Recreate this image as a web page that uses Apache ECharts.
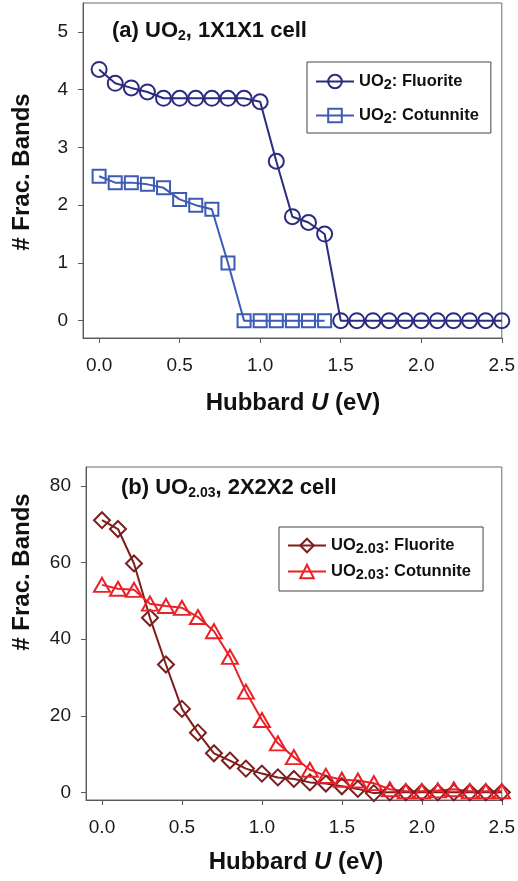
<!DOCTYPE html>
<html>
<head>
<meta charset="utf-8">
<script src="https://cdn.jsdelivr.net/npm/echarts@6/dist/echarts.min.js"></script>
<style>
  html, body { margin: 0; padding: 0; background: #fff; }
  #chart { width: 518px; height: 881px; }
</style>
</head>
<body>
<div id="chart"></div>
<script>
// Hubbard U values (eV)
const hubbardU = [0.0, 0.1, 0.2, 0.3, 0.4, 0.5, 0.6, 0.7, 0.8, 0.9, 1.0, 1.1, 1.2,
                  1.3, 1.4, 1.5, 1.6, 1.7, 1.8, 1.9, 2.0, 2.1, 2.2, 2.3, 2.4, 2.5];

// (a) UO2, 1x1x1 cell
const uo2Fluorite  = [4.35, 4.11, 4.03, 3.96, 3.85, 3.85, 3.85, 3.85, 3.85, 3.85, 3.79, 2.76, 1.80,
                      1.70, 1.50, 0, 0, 0, 0, 0, 0, 0, 0, 0, 0, 0];
const uo2Cotunnite = [2.50, 2.39, 2.39, 2.36, 2.30, 2.10, 2.00, 1.93, 1.00, 0, 0, 0, 0, 0, 0];

// (b) UO2.03, 2x2x2 cell
const uo203Fluorite  = [71.1, 68.8, 59.8, 45.6, 33.4, 21.8, 15.6, 10.2, 8.3, 6.2, 4.9, 3.9, 3.5,
                        2.6, 2.3, 1.6, 0.9, -0.2, 0, 0, 0, 0, 0, 0, 0, 0];
const uo203Cotunnite = [54.2, 53.2, 52.9, 49.3, 48.7, 48.2, 45.8, 42.1, 35.4, 26.3, 18.9, 12.8, 9.2,
                        5.9, 4.3, 3.3, 3.1, 2.4, 0.8, 0.3, 0.3, 0.5, 0.8, 0.3, 0.3, 0.3];

// Tick labels
const xTicks  = [0, 0.5, 1.0, 1.5, 2.0, 2.5];
const yTicksA = [0, 1, 2, 3, 4, 5];
const yTicksB = [0, 20, 40, 60, 80];

const FONT = '"Liberation Sans", Arial, Helvetica, sans-serif';
const AXIS_GRAY = '#5a5a5a';

function pairs(values) {
  return values.map((v, i) => [hubbardU[i], v]);
}

function xAxisFor(gridIndex) {
  return {
    type: 'value', gridIndex, min: -0.1, max: 2.5,
    splitLine: { show: false },
    axisLine: { show: true, onZero: false, lineStyle: { color: AXIS_GRAY, width: 1 } },
    axisTick: { show: true, inside: false, length: 5, customValues: xTicks, lineStyle: { color: AXIS_GRAY } },
    axisLabel: { customValues: xTicks, margin: 18, fontSize: 19, color: '#1a1a1a', fontFamily: FONT,
                 formatter: v => v.toFixed(1) }
  };
}

function yAxisFor(gridIndex, min, max, ticks) {
  return {
    type: 'value', gridIndex, min, max,
    splitLine: { show: false },
    axisLine: { show: true, onZero: false, lineStyle: { color: AXIS_GRAY, width: 1 } },
    axisTick: { show: true, inside: false, length: 5, customValues: ticks, lineStyle: { color: AXIS_GRAY } },
    axisLabel: { customValues: ticks, margin: 15, fontSize: 19, color: '#1a1a1a', fontFamily: FONT,
                 formatter: v => String(v) }
  };
}

function lineSeries(name, values, axisIdx, color, symbol, size) {
  return {
    name, type: 'line', xAxisIndex: axisIdx, yAxisIndex: axisIdx,
    data: pairs(values),
    symbol, symbolSize: size, showAllSymbol: true,
    lineStyle: { color, width: 2 },
    itemStyle: { color: 'rgba(255,255,255,0)', borderColor: color, borderWidth: 2 },
    emphasis: { disabled: true },
    animation: false
  };
}

const NAVY = '#2b2b80';
const BLUE = '#3d5bb3';
const DARKRED = '#7d1d1d';
const RED = '#ea2228';

const legendRich = {
  n: { fontSize: 16.5, fontWeight: 'bold', fontFamily: FONT, color: '#111' },
  s: { fontSize: 14.5, fontWeight: 'bold', fontFamily: FONT, color: '#111', padding: [6, 0, 0, 0] }
};

const chart = echarts.init(document.getElementById('chart'), null, { renderer: 'canvas' });

chart.setOption({
  backgroundColor: '#fff',
  animation: false,
  grid: [
    { left: 83, top: 3, right: 16, height: 335, show: true, borderColor: '#6a6a6a', borderWidth: 1 },
    { left: 86, top: 467, right: 12, height: 333, show: true, borderColor: '#6a6a6a', borderWidth: 1 }
  ],
  xAxis: [xAxisFor(0), xAxisFor(1)],
  yAxis: [yAxisFor(0, -0.3, 5.5, yTicksA), yAxisFor(1, -2, 85, yTicksB)],
  legend: [
    {
      data: ['UO2: Fluorite', 'UO2: Cotunnite'],
      orient: 'vertical', left: 307, top: 62,
      itemWidth: 38, itemHeight: 17, itemGap: 15,
      padding: [11, 12, 7, 8],
      borderColor: '#444', borderWidth: 1,
      selectedMode: false,
      formatter: name => name.replace('UO2', '{n|UO}{s|2}').replace(/: (.*)$/, '{n|: $1}'),
      textStyle: { rich: legendRich }
    },
    {
      data: ['UO2.03: Fluorite', 'UO2.03: Cotunnite'],
      orient: 'vertical', left: 279, top: 527,
      itemWidth: 38, itemHeight: 17, itemGap: 7,
      padding: [10, 12, 9, 8],
      borderColor: '#444', borderWidth: 1,
      selectedMode: false,
      formatter: name => name.replace('UO2.03', '{n|UO}{s|2.03}').replace(/: (.*)$/, '{n|: $1}'),
      textStyle: { rich: legendRich }
    }
  ],
  series: [
    lineSeries('UO2: Cotunnite', uo2Cotunnite, 0, BLUE, 'rect', 13),
    lineSeries('UO2: Fluorite', uo2Fluorite, 0, NAVY, 'circle', 15),
    lineSeries('UO2.03: Fluorite', uo203Fluorite, 1, DARKRED, 'diamond', 16),
    lineSeries('UO2.03: Cotunnite', uo203Cotunnite, 1, RED, 'triangle', [16, 14])
  ],
  graphic: [
    // panel titles
    {
      type: 'text', x: 112, y: 31,
      style: {
        text: '{t|(a) UO}{u|2}{t|, 1X1X1 cell}',
        textVerticalAlign: 'middle',
        rich: {
          t: { fontSize: 22, fontWeight: 'bold', fontFamily: FONT, fill: '#111' },
          u: { fontSize: 14, fontWeight: 'bold', fontFamily: FONT, fill: '#111', padding: [10, 0, 0, 0] }
        }
      }
    },
    {
      type: 'text', x: 121, y: 488,
      style: {
        text: '{t|(b) UO}{u|2.03}{t|, 2X2X2 cell}',
        textVerticalAlign: 'middle',
        rich: {
          t: { fontSize: 22, fontWeight: 'bold', fontFamily: FONT, fill: '#111' },
          u: { fontSize: 14, fontWeight: 'bold', fontFamily: FONT, fill: '#111', padding: [10, 0, 0, 0] }
        }
      }
    },
    // x-axis titles
    {
      type: 'text', x: 293, y: 403,
      style: {
        text: '{b|Hubbard }{i|U}{b| (eV)}',
        textAlign: 'center', textVerticalAlign: 'middle',
        rich: {
          b: { fontSize: 24, fontWeight: 'bold', fontFamily: FONT, fill: '#111' },
          i: { fontSize: 24, fontWeight: 'bold', fontStyle: 'italic', fontFamily: FONT, fill: '#111' }
        }
      }
    },
    {
      type: 'text', x: 296, y: 862,
      style: {
        text: '{b|Hubbard }{i|U}{b| (eV)}',
        textAlign: 'center', textVerticalAlign: 'middle',
        rich: {
          b: { fontSize: 24, fontWeight: 'bold', fontFamily: FONT, fill: '#111' },
          i: { fontSize: 24, fontWeight: 'bold', fontStyle: 'italic', fontFamily: FONT, fill: '#111' }
        }
      }
    },
    // y-axis titles
    {
      type: 'text', x: 22, y: 172, rotation: Math.PI / 2,
      style: {
        text: '# Frac. Bands', fontSize: 24, fontWeight: 'bold', fontFamily: FONT, fill: '#111',
        textAlign: 'center', textVerticalAlign: 'middle'
      }
    },
    {
      type: 'text', x: 22, y: 572, rotation: Math.PI / 2,
      style: {
        text: '# Frac. Bands', fontSize: 24, fontWeight: 'bold', fontFamily: FONT, fill: '#111',
        textAlign: 'center', textVerticalAlign: 'middle'
      }
    }
  ]
});
</script>
</body>
</html>
